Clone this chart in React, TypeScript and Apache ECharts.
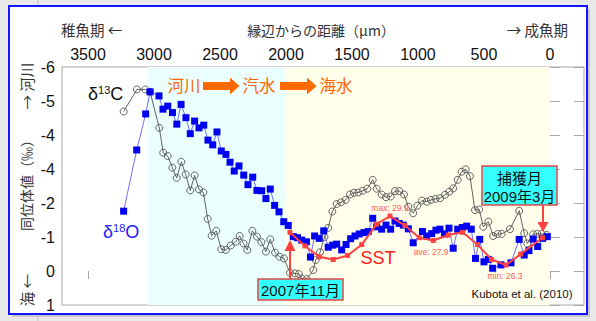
import React, { useEffect, useRef } from "react";
import * as echarts from "echarts";

// ---- data ----
const xTicks = [0, 500, 1000, 1500, 2000, 2500, 3000, 3500];
const yTickLabels = ["-6", "-5", "-4", "-4", "-2", "-1", "0", "1"];

const zoneRiver = [3050, 2000];
const zoneSea = [2000, 0];

const d13C_x = [3230,3129,3066,3030,2960,2930,2896,2861,2828,2793,2760,2725,2692,2659,2626,2593,2563,2528,2490,2455,2419,2381,2351,2322,2293,2255,2220,2186,2152,2119,2083,2049,2015,1970,1932,1902,1881,1843,1793,1775,1742,1708,1680,1649,1616,1583,1548,1515,1485,1452,1419,1384,1343,1313,1275,1242,1207,1174,1142,1106,1073,1036,1005,970,934,902,867,833,795,763,733,699,669,639,606,568,536,505,467,430,396,366,303,233,195,172,127,96,63,25];
const d13C_v = [-4.69,-5.34,-5.34,-5.27,-4.21,-3.48,-3.38,-3.04,-2.74,-3.21,-2.84,-2.37,-2.81,-2.40,-2.31,-1.53,-1.04,-1.18,-0.64,-0.62,-0.75,-0.86,-1.03,-0.81,-0.62,-1.18,-1.01,-0.85,-0.57,-0.93,-0.54,-0.42,-0.37,0.05,0.07,0.09,0.22,0.24,-0.03,-0.32,-0.55,-1.00,-1.27,-1.75,-1.97,-2.02,-2.09,-2.25,-2.30,-2.31,-2.36,-2.42,-2.68,-2.42,-2.25,-2.17,-2.19,-2.35,-2.35,-2.25,-1.89,-1.70,-1.92,-2.07,-2.04,-2.09,-2.12,-2.14,-2.24,-2.33,-2.43,-2.68,-2.92,-2.99,-2.79,-1.79,-1.81,-1.30,-1.45,-1.03,-1.09,-1.09,-1.23,-1.77,-1.11,-0.81,-1.08,-1.09,-1.09,-1.06];

const d18O_x = [3230,3131,3063,3030,2962,2932,2896,2860,2827,2795,2758,2725,2692,2659,2623,2591,2555,2523,2490,2455,2424,2392,2356,2320,2288,2252,2220,2184,2152,2119,2086,2053,2017,1983,1945,1913,1881,1845,1814,1783,1748,1714,1680,1646,1616,1578,1545,1510,1477,1445,1409,1377,1343,1313,1275,1242,1207,1174,1142,1111,1073,1036,966,934,896,864,833,799,765,733,699,664,631,596,564,532,500,467,434,371,295,233,195,159,127,93,55,20];
const d18O_v = [-1.76,-3.56,-4.62,-5.27,-5.15,-4.76,-4.85,-4.66,-4.32,-4.90,-4.51,-4.04,-4.41,-4.21,-4.29,-3.85,-3.71,-4.09,-3.53,-3.43,-3.20,-2.94,-3.09,-2.82,-2.54,-2.76,-2.37,-2.36,-2.13,-2.41,-1.93,-1.74,-1.45,-1.34,-1.01,-0.98,-0.91,-0.86,-0.41,-1.03,-0.96,-1.18,-0.70,-0.76,-0.79,-0.62,-0.78,-0.95,-1.03,-1.09,-1.13,-1.16,-1.55,-1.30,-1.23,-1.35,-1.23,-1.47,-1.40,-1.35,-1.24,-0.83,-1.16,-1.03,-1.10,-1.20,-1.23,-1.09,-1.26,-0.67,-1.23,-1.28,-1.32,-1.23,-0.37,-0.93,-0.27,-0.34,-0.08,-0.18,-0.24,-0.93,-0.47,-0.60,-0.94,-0.72,-0.96,-1.01];

// SST (°C), monthly from 2007/11 to 2009/3
const sst_x = [1970,1856,1748,1642,1533,1426,1313,1212,1098,990,884,770,663,549,442,333,222,56];
const sst_t = [28.7,27.7,26.9,26.7,27.0,27.8,29.3,29.9,29.2,28.3,28.1,28.5,28.7,27.8,26.7,26.3,27.1,28.3];
const sstAxis = [23.36, 40.85];
const sstLabels = ["max: 29.9", "ave: 27.9", "min: 26.3"];

const FONT = "'Liberation Sans', Arial, 'Noto Sans CJK JP', sans-serif";
const CJK = "'Noto Sans CJK JP', 'Liberation Sans', sans-serif";

function txt(x: number, y: number, text: string, size: number, color: string, align = "center", extra: any = {}) {
  return {
    type: "text",
    x,
    y,
    z: 100,
    silent: true,
    ...extra,
    style: { text, fontSize: size, fill: color, align, verticalAlign: "middle", fontFamily: extra.font || FONT },
  };
}

function arrowPoly(x0: number, x1: number, xt: number, yc: number) {
  return {
    type: "polygon",
    z: 100,
    silent: true,
    shape: {
      points: [
        [x0, yc - 4], [x1, yc - 4], [x1, yc - 8.5], [xt, yc], [x1, yc + 8.5], [x1, yc + 4], [x0, yc + 4],
      ],
    },
    style: { fill: "#ff6a00" },
  };
}

export default function App() {
  const ref = useRef<HTMLDivElement>(null);
  useEffect(() => {
    if (!ref.current) return;
    const chart = echarts.init(ref.current, null, { renderer: "svg" });
    const axisGrey = "#a8a8a8";
    const option: any = {
      animation: false,
      backgroundColor: "transparent",
      grid: { left: 62, right: 12, top: 67, bottom: 16, show: true, borderColor: axisGrey, borderWidth: 1, backgroundColor: "transparent" },
      xAxis: {
        type: "value",
        position: "top",
        inverse: true,
        min: -258,
        max: 3697,
        axisLine: { show: false },
        splitLine: { show: false },
        axisTick: { show: true, inside: true, length: 8, lineStyle: { color: axisGrey }, customValues: xTicks },
        axisLabel: { customValues: xTicks, fontSize: 16, color: "#111", margin: 5, fontFamily: FONT, formatter: (v: number) => String(v) },
      },
      yAxis: [
        {
          type: "value", min: -6, max: 1, interval: 1, inverse: true, position: "left",
          axisLine: { show: false }, splitLine: { show: false },
          axisTick: { show: true, inside: true, length: 10, lineStyle: { color: axisGrey } },
          axisLabel: { fontSize: 16, color: "#111", margin: 7, fontFamily: FONT, formatter: (v: number) => yTickLabels[Math.round(v) + 6] },
        },
        {
          type: "value", min: -6, max: 1, interval: 1, inverse: true, position: "right",
          axisLine: { show: false }, splitLine: { show: false },
          axisTick: { show: true, inside: true, length: 10, lineStyle: { color: axisGrey } },
          axisLabel: { show: false },
        },
        { type: "value", min: sstAxis[0], max: sstAxis[1], show: false },
      ],
      series: [
        {
          name: "δ13C",
          type: "line",
          xAxisIndex: 0,
          yAxisIndex: 0,
          data: d13C_x.map((x, i) => [x, d13C_v[i]]),
          symbol: "circle",
          symbolSize: 7,
          lineStyle: { color: "#3a3a3a", width: 0.8 },
          itemStyle: { color: "rgba(0,0,0,0)", borderColor: "#555", borderWidth: 0.9 },
          z: 3,
          markArea: {
            silent: true,
            data: [
              [{ xAxis: zoneRiver[0], itemStyle: { color: "#ebffff" } }, { xAxis: zoneRiver[1] }],
              [{ xAxis: zoneSea[0], itemStyle: { color: "#ffffeb" } }, { xAxis: zoneSea[1] }],
            ],
          },
        },
        {
          name: "δ18O",
          type: "line",
          xAxisIndex: 0,
          yAxisIndex: 0,
          data: d18O_x.map((x, i) => [x, d18O_v[i]]),
          symbol: "rect",
          symbolSize: 7,
          lineStyle: { color: "#6e6eff", width: 1 },
          itemStyle: { color: "#0000f0" },
          z: 4,
        },
        {
          name: "SST",
          type: "line",
          xAxisIndex: 0,
          yAxisIndex: 2,
          data: sst_x.map((x, i) => [x, sst_t[i]]),
          symbol: "rect",
          symbolSize: 5,
          lineStyle: { color: "#ff4040", width: 2 },
          itemStyle: { color: "#ff4444" },
          z: 5,
        },
      ],
      graphic: [
        { type: "line", z: -30, silent: true, shape: { x1: 38, y1: 0, x2: 38, y2: 321 }, style: { stroke: "#c4c4c4", lineWidth: 1 } },
        { type: "rect", z: -29, silent: true, shape: { x: 12, y: 9, width: 578, height: 308 }, style: { fill: "#c9c9c9" } },
        { type: "rect", z: -28, silent: true, shape: { x: 9, y: 6, width: 578, height: 308 }, style: { fill: "#ffffff", stroke: "#1414ff", lineWidth: 2 } },

        txt(61, 29, "稚魚期 ←", 14.5, "#333", "left", { font: CJK }),
        txt(321, 30, "縁辺からの距離（µm）", 14, "#333", "center", { font: CJK }),
        txt(568, 29, "→ 成魚期", 14.5, "#333", "right", { font: CJK }),

        txt(26, 86, "→ 河川", 14.5, "#333", "center", { font: CJK, rotation: Math.PI / 2 }),
        txt(26, 182, "同位体値（‰）", 14, "#333", "center", { font: CJK, rotation: Math.PI / 2 }),
        txt(26, 290, "海 ←", 14.5, "#333", "center", { font: CJK, rotation: Math.PI / 2 }),

        txt(184, 85, "河川", 16.5, "#ff6600", "center", { font: CJK }),
        arrowPoly(203, 230, 239.5, 86),
        txt(259, 85, "汽水", 16.5, "#ff6600", "center", { font: CJK }),
        arrowPoly(280, 307, 316.5, 86),
        txt(336, 85, "海水", 16.5, "#ff6600", "center", { font: CJK }),

        {
          type: "text", x: 88, y: 94, z: 100, silent: true,
          style: {
            text: "{a|δ}{s|13}{a|C}", fill: "#111", align: "left", verticalAlign: "middle", fontFamily: FONT,
            rich: {
              a: { fontSize: 18, lineHeight: 20, fontFamily: FONT, fill: "#111" },
              s: { fontSize: 11, lineHeight: 11, verticalAlign: "top", fontFamily: FONT, fill: "#111" },
            },
          },
        },
        {
          type: "text", x: 103, y: 232, z: 100, silent: true,
          style: {
            text: "{a|δ}{s|18}{a|O}", fill: "#1a1aff", align: "left", verticalAlign: "middle", fontFamily: FONT,
            rich: {
              a: { fontSize: 18, lineHeight: 20, fontFamily: FONT, fill: "#1a1aff" },
              s: { fontSize: 11, lineHeight: 11, verticalAlign: "top", fontFamily: FONT, fill: "#1a1aff" },
            },
          },
        },

        txt(378, 258, "SST", 18, "#ff1a1a"),
        txt(390, 208, sstLabels[0], 8.5, "#ff5a5a"),
        txt(431, 252, sstLabels[1], 8.5, "#ff5a5a"),
        txt(505, 276, sstLabels[2], 8.5, "#ff5a5a"),
        txt(522, 294, "Kubota et al. (2010)", 11.5, "#111"),

        // box 2007年11月 + arrow
        { type: "line", z: 99, silent: true, shape: { x1: 290, y1: 279, x2: 290, y2: 250 }, style: { stroke: "#ff4040", lineWidth: 2 } },
        { type: "polygon", z: 99, silent: true, shape: { points: [[284.5, 251], [295.5, 251], [290, 240]] }, style: { fill: "#ff4040" } },
        { type: "rect", z: 100, silent: true, shape: { x: 258, y: 279, width: 85, height: 21 }, style: { fill: "#33ffff", stroke: "#e44848", lineWidth: 1.5 } },
        txt(300.5, 290, "2007年11月", 15, "#111", "center", { z: 101 }),

        // box 捕獲月 2009年3月 + arrow
        { type: "line", z: 99, silent: true, shape: { x1: 543, y1: 205, x2: 543, y2: 223 }, style: { stroke: "#ff4040", lineWidth: 2 } },
        { type: "polygon", z: 99, silent: true, shape: { points: [[537.5, 222], [548.5, 222], [543, 232]] }, style: { fill: "#ff4040" } },
        { type: "rect", z: 100, silent: true, shape: { x: 482, y: 166, width: 75, height: 39 }, style: { fill: "#33ffff", stroke: "#e44848", lineWidth: 1.5 } },
        txt(519.5, 177, "捕獲月", 15, "#111", "center", { z: 101, font: CJK }),
        txt(519.5, 196, "2009年3月", 15, "#111", "center", { z: 101 }),
      ],
    };
    chart.setOption(option);
    return () => chart.dispose();
  }, []);
  return (
    <div
      ref={ref}
      style={{ position: "fixed", left: 0, top: 0, width: 596, height: 321, background: "#e8e8e8" }}
    />
  );
}
